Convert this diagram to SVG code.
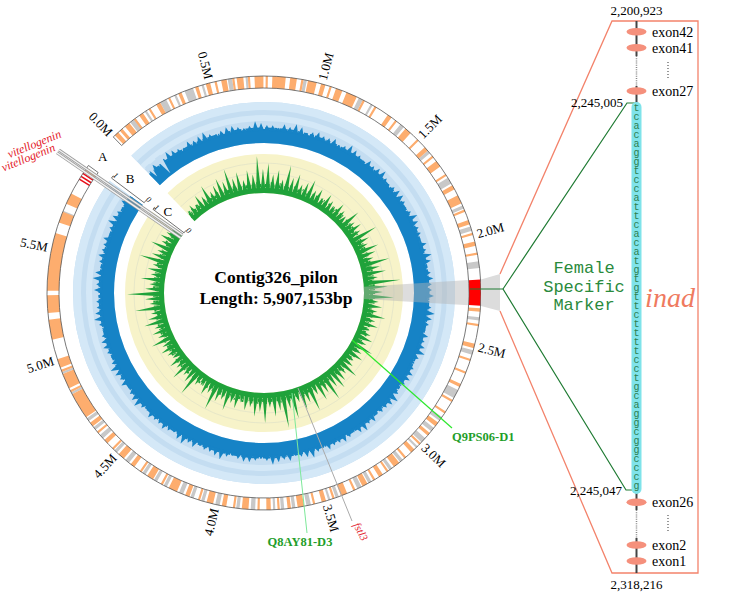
<svg xmlns="http://www.w3.org/2000/svg" width="730" height="597" viewBox="0 0 730 597">
<defs>
<style>
text{font-family:"Liberation Serif","Times New Roman",serif;fill:#000}
.tk{font-size:13px}
.s{text-anchor:start}
.e{text-anchor:end}
.m{text-anchor:middle}
.ex{font-size:14px}
.num{font-size:13px}
.mono{font-family:"Liberation Mono","Courier New",monospace}
.fsm{font-size:17px;fill:#2a8a3c}
.seq{font-size:10px;fill:#2e7d4f;text-anchor:middle}
.ax{font-size:8px;font-style:italic;text-anchor:middle}
.lt{font-size:13px;text-anchor:middle}
.gl{font-size:12.5px;font-weight:bold;fill:#1f9e2a}
.exon{fill:#f5907c}
</style>
<clipPath id="cg"><polygon points="264,293 -13.9,5.3 264,-400 1000,293 264,1000 -500,293 -59.6,57.9"/></clipPath>
<path id="rc" d="M475,293a211,211 0 1 1-422,0a211,211 0 1 1 422,0" pathLength="607.6"/>
<path id="b1" d="M428.5,293a164.5,164.5 0 1 1-329,0a164.5,164.5 0 1 1 329,0" pathLength="1000"/>
<path id="c1" d="M371.5,293a107.5,107.5 0 1 1-215,0a107.5,107.5 0 1 1 215,0" pathLength="700"/>
<path id="c2" d="M374,293a110,110 0 1 1-220,0a110,110 0 1 1 220,0" pathLength="700"/>
<path id="ga" d="M-2.3,-104L0,-109L2.3,-104Z"/>
<path id="gb" d="M-2.3,-104L0,-112L2.3,-104Z"/>
<path id="gc" d="M-2.3,-104L0,-115L2.3,-104Z"/>
<path id="gd" d="M-2.3,-104L0,-119L2.3,-104Z"/>
<path id="ge" d="M-2.3,-104L0,-124L2.3,-104Z"/>
<path id="gf" d="M-2.3,-104L0,-130L2.3,-104Z"/>
<path id="gg" d="M-2.3,-104L0,-137L2.3,-104Z"/>
<path id="pa" d="M-3.2,-162L0,-166L3.2,-162Z"/>
<path id="pb" d="M-3.2,-162L0,-168L3.2,-162Z"/>
<path id="pc" d="M-3.2,-162L0,-170L3.2,-162Z"/>
<path id="pd" d="M-3.2,-162L0,-172L3.2,-162Z"/>
</defs>

<g id="tracks" clip-path="url(#cg)">
 <g id="coverage-track" fill="none">
  <circle cx="264" cy="293" r="170.5" stroke="#c4ddf1" stroke-width="41"/>
  <circle cx="264" cy="293" r="187" stroke="#d4e8f7" stroke-width="8"/>
  <circle cx="264" cy="293" r="175" stroke="#d4e8f7" stroke-width="6"/>
  <circle cx="264" cy="293" r="157" stroke="#1683c6" stroke-width="14"/>
  <use href="#b1" stroke="#1683c6" stroke-width="2" stroke-dasharray="4 1 2 2 6 1 1 1 3 2 5 1 2 1 7 2 1 1 3 1 4 2"/>
  <g transform="translate(264 293)" fill="#1683c6" stroke="none">
<use href="#pb" transform="rotate(-43)"/><use href="#pc" transform="rotate(-41)"/><use href="#pa" transform="rotate(-39)"/><use href="#pb" transform="rotate(-37)"/><use href="#pd" transform="rotate(-35)"/><use href="#pc" transform="rotate(-33)"/><use href="#pb" transform="rotate(-31)"/><use href="#pa" transform="rotate(-29)"/><use href="#pc" transform="rotate(-27)"/><use href="#pb" transform="rotate(-25)"/><use href="#pc" transform="rotate(-23)"/><use href="#pd" transform="rotate(-21)"/><use href="#pb" transform="rotate(-19)"/><use href="#pa" transform="rotate(-17)"/><use href="#pb" transform="rotate(-15)"/><use href="#pc" transform="rotate(-13)"/><use href="#pc" transform="rotate(-11)"/><use href="#pb" transform="rotate(-9)"/><use href="#pa" transform="rotate(-7)"/><use href="#pb" transform="rotate(-5)"/><use href="#pd" transform="rotate(-3)"/><use href="#pc" transform="rotate(-1)"/><use href="#pb" transform="rotate(1)"/><use href="#pb" transform="rotate(3)"/><use href="#pa" transform="rotate(5)"/><use href="#pc" transform="rotate(7)"/><use href="#pb" transform="rotate(9)"/><use href="#pd" transform="rotate(11)"/><use href="#pc" transform="rotate(13)"/><use href="#pa" transform="rotate(15)"/><use href="#pb" transform="rotate(17)"/><use href="#pc" transform="rotate(19)"/><use href="#pb" transform="rotate(21)"/>
<use href="#pb" transform="rotate(23)"/><use href="#pc" transform="rotate(25)"/><use href="#pa" transform="rotate(27)"/><use href="#pb" transform="rotate(29)"/><use href="#pd" transform="rotate(31)"/><use href="#pc" transform="rotate(33)"/><use href="#pb" transform="rotate(35)"/><use href="#pa" transform="rotate(37)"/><use href="#pc" transform="rotate(39)"/><use href="#pb" transform="rotate(41)"/><use href="#pc" transform="rotate(43)"/><use href="#pd" transform="rotate(45)"/><use href="#pb" transform="rotate(47)"/><use href="#pa" transform="rotate(49)"/><use href="#pb" transform="rotate(51)"/><use href="#pc" transform="rotate(53)"/><use href="#pc" transform="rotate(55)"/><use href="#pb" transform="rotate(57)"/><use href="#pa" transform="rotate(59)"/><use href="#pb" transform="rotate(61)"/><use href="#pd" transform="rotate(63)"/><use href="#pc" transform="rotate(65)"/><use href="#pb" transform="rotate(67)"/><use href="#pb" transform="rotate(69)"/><use href="#pa" transform="rotate(71)"/><use href="#pc" transform="rotate(73)"/><use href="#pb" transform="rotate(75)"/><use href="#pd" transform="rotate(77)"/><use href="#pc" transform="rotate(79)"/><use href="#pa" transform="rotate(81)"/><use href="#pb" transform="rotate(83)"/><use href="#pc" transform="rotate(85)"/><use href="#pb" transform="rotate(87)"/>
<use href="#pb" transform="rotate(89)"/><use href="#pc" transform="rotate(91)"/><use href="#pa" transform="rotate(93)"/><use href="#pb" transform="rotate(95)"/><use href="#pd" transform="rotate(97)"/><use href="#pc" transform="rotate(99)"/><use href="#pb" transform="rotate(101)"/><use href="#pa" transform="rotate(103)"/><use href="#pc" transform="rotate(105)"/><use href="#pb" transform="rotate(107)"/><use href="#pc" transform="rotate(109)"/><use href="#pd" transform="rotate(111)"/><use href="#pb" transform="rotate(113)"/><use href="#pa" transform="rotate(115)"/><use href="#pb" transform="rotate(117)"/><use href="#pc" transform="rotate(119)"/><use href="#pc" transform="rotate(121)"/><use href="#pb" transform="rotate(123)"/><use href="#pa" transform="rotate(125)"/><use href="#pb" transform="rotate(127)"/><use href="#pd" transform="rotate(129)"/><use href="#pc" transform="rotate(131)"/><use href="#pb" transform="rotate(133)"/><use href="#pb" transform="rotate(135)"/><use href="#pa" transform="rotate(137)"/><use href="#pc" transform="rotate(139)"/><use href="#pb" transform="rotate(141)"/><use href="#pd" transform="rotate(143)"/><use href="#pc" transform="rotate(145)"/><use href="#pa" transform="rotate(147)"/><use href="#pb" transform="rotate(149)"/><use href="#pc" transform="rotate(151)"/><use href="#pb" transform="rotate(153)"/>
<use href="#pb" transform="rotate(155)"/><use href="#pc" transform="rotate(157)"/><use href="#pa" transform="rotate(159)"/><use href="#pb" transform="rotate(161)"/><use href="#pd" transform="rotate(163)"/><use href="#pc" transform="rotate(165)"/><use href="#pb" transform="rotate(167)"/><use href="#pa" transform="rotate(169)"/><use href="#pc" transform="rotate(171)"/><use href="#pb" transform="rotate(173)"/><use href="#pc" transform="rotate(175)"/><use href="#pd" transform="rotate(177)"/><use href="#pb" transform="rotate(179)"/><use href="#pa" transform="rotate(181)"/><use href="#pb" transform="rotate(183)"/><use href="#pc" transform="rotate(185)"/><use href="#pc" transform="rotate(187)"/><use href="#pb" transform="rotate(189)"/><use href="#pa" transform="rotate(191)"/><use href="#pb" transform="rotate(193)"/><use href="#pd" transform="rotate(195)"/><use href="#pc" transform="rotate(197)"/><use href="#pb" transform="rotate(199)"/><use href="#pb" transform="rotate(201)"/><use href="#pa" transform="rotate(203)"/><use href="#pc" transform="rotate(205)"/><use href="#pb" transform="rotate(207)"/><use href="#pd" transform="rotate(209)"/><use href="#pc" transform="rotate(211)"/><use href="#pa" transform="rotate(213)"/><use href="#pb" transform="rotate(215)"/><use href="#pc" transform="rotate(217)"/><use href="#pb" transform="rotate(219)"/>
<use href="#pb" transform="rotate(221)"/><use href="#pc" transform="rotate(223)"/><use href="#pa" transform="rotate(225)"/><use href="#pb" transform="rotate(227)"/><use href="#pd" transform="rotate(229)"/><use href="#pc" transform="rotate(231)"/><use href="#pb" transform="rotate(233)"/><use href="#pa" transform="rotate(235)"/><use href="#pc" transform="rotate(237)"/><use href="#pb" transform="rotate(239)"/><use href="#pc" transform="rotate(241)"/><use href="#pd" transform="rotate(243)"/><use href="#pb" transform="rotate(245)"/><use href="#pa" transform="rotate(247)"/><use href="#pb" transform="rotate(249)"/><use href="#pc" transform="rotate(251)"/><use href="#pc" transform="rotate(253)"/><use href="#pb" transform="rotate(255)"/><use href="#pa" transform="rotate(257)"/><use href="#pb" transform="rotate(259)"/><use href="#pd" transform="rotate(261)"/><use href="#pc" transform="rotate(263)"/><use href="#pb" transform="rotate(265)"/><use href="#pb" transform="rotate(267)"/><use href="#pa" transform="rotate(269)"/><use href="#pc" transform="rotate(271)"/><use href="#pb" transform="rotate(273)"/><use href="#pd" transform="rotate(275)"/><use href="#pc" transform="rotate(277)"/><use href="#pa" transform="rotate(279)"/><use href="#pb" transform="rotate(281)"/><use href="#pc" transform="rotate(283)"/><use href="#pb" transform="rotate(285)"/>
<use href="#pb" transform="rotate(287)"/><use href="#pc" transform="rotate(289)"/><use href="#pa" transform="rotate(291)"/><use href="#pb" transform="rotate(293)"/><use href="#pd" transform="rotate(295)"/><use href="#pc" transform="rotate(297)"/><use href="#pb" transform="rotate(299)"/><use href="#pa" transform="rotate(301)"/><use href="#pc" transform="rotate(303)"/><use href="#pb" transform="rotate(305)"/>
  </g>
  <g transform="translate(264 293)" fill="#c4ddf1">
   <path d="M-3.5,-173L0,-152L3.5,-173Z" transform="rotate(-38)"/>
   <path d="M-3,-173L0,-158L3,-173Z" transform="rotate(-42.5)"/>
  </g>
 </g>
 <g id="gc-track">
  <circle cx="264" cy="293" r="119.5" fill="none" stroke="#f7f3c9" stroke-width="39"/>
  <g fill="none" stroke="#dcdfc8" stroke-width="0.6">
   <circle cx="264" cy="293" r="110"/>
   <circle cx="264" cy="293" r="120"/>
   <circle cx="264" cy="293" r="130"/>
  </g>
  <circle cx="264" cy="293" r="102.5" fill="none" stroke="#1fa23a" stroke-width="5"/>
  <use href="#c1" fill="none" stroke="#1fa23a" stroke-width="3" stroke-dasharray="2 1 1 2 3 1 1 1 2 2 1 3"/>
  <use href="#c2" fill="none" stroke="#1fa23a" stroke-width="2" stroke-dasharray="1 3 2 4 1 2 1 5 2 3"/>
  <g transform="translate(264 293)" fill="#1fa23a">
<use href="#gb" transform="rotate(-43)"/><use href="#gc" transform="rotate(-40.5)"/><use href="#gb" transform="rotate(-38)"/><use href="#gd" transform="rotate(-35.5)"/><use href="#gc" transform="rotate(-33)"/><use href="#ge" transform="rotate(-30.5)"/><use href="#gc" transform="rotate(-28)"/><use href="#gd" transform="rotate(-25.5)"/><use href="#ge" transform="rotate(-23)"/><use href="#gd" transform="rotate(-20.5)"/><use href="#gf" transform="rotate(-18)"/><use href="#gd" transform="rotate(-15.5)"/><use href="#ge" transform="rotate(-13)"/><use href="#gc" transform="rotate(-10.5)"/><use href="#ge" transform="rotate(-8)"/><use href="#gd" transform="rotate(-5.5)"/><use href="#gg" transform="rotate(-3)"/><use href="#ge" transform="rotate(-0.5)"/><use href="#gf" transform="rotate(2)"/><use href="#gd" transform="rotate(4.5)"/><use href="#ge" transform="rotate(7)"/><use href="#gc" transform="rotate(9.5)"/><use href="#gf" transform="rotate(12)"/><use href="#gd" transform="rotate(14.5)"/><use href="#ge" transform="rotate(17)"/><use href="#gc" transform="rotate(19.5)"/><use href="#gd" transform="rotate(22)"/><use href="#ge" transform="rotate(24.5)"/><use href="#gc" transform="rotate(27)"/><use href="#gd" transform="rotate(29.5)"/><use href="#gb" transform="rotate(32)"/><use href="#gd" transform="rotate(34.5)"/><use href="#gc" transform="rotate(37)"/><use href="#gb" transform="rotate(39.5)"/><use href="#gd" transform="rotate(42)"/><use href="#gc" transform="rotate(44.5)"/><use href="#gb" transform="rotate(47)"/><use href="#ge" transform="rotate(49.5)"/><use href="#gc" transform="rotate(52)"/><use href="#gd" transform="rotate(54.5)"/><use href="#gc" transform="rotate(57)"/><use href="#gf" transform="rotate(59.5)"/><use href="#gd" transform="rotate(62)"/><use href="#gc" transform="rotate(64.5)"/><use href="#ge" transform="rotate(67)"/><use href="#gd" transform="rotate(69.5)"/><use href="#gc" transform="rotate(72)"/><use href="#gf" transform="rotate(74.5)"/><use href="#gd" transform="rotate(77)"/><use href="#ge" transform="rotate(79.5)"/><use href="#gc" transform="rotate(82)"/><use href="#gg" transform="rotate(84.5)"/><use href="#ge" transform="rotate(87)"/><use href="#gd" transform="rotate(89.5)"/><use href="#gf" transform="rotate(92)"/><use href="#gc" transform="rotate(94.5)"/><use href="#gd" transform="rotate(97)"/><use href="#gc" transform="rotate(99.5)"/><use href="#ge" transform="rotate(102)"/><use href="#gc" transform="rotate(104.5)"/><use href="#gd" transform="rotate(107)"/><use href="#gb" transform="rotate(109.5)"/><use href="#gc" transform="rotate(112)"/><use href="#gd" transform="rotate(114.5)"/><use href="#gc" transform="rotate(117)"/><use href="#ge" transform="rotate(119.5)"/><use href="#gc" transform="rotate(122)"/><use href="#gd" transform="rotate(124.5)"/><use href="#gb" transform="rotate(127)"/><use href="#gc" transform="rotate(129.5)"/><use href="#ge" transform="rotate(132)"/><use href="#gc" transform="rotate(134.5)"/><use href="#gd" transform="rotate(137)"/><use href="#ge" transform="rotate(139.5)"/><use href="#gd" transform="rotate(142)"/><use href="#gf" transform="rotate(144.5)"/><use href="#gd" transform="rotate(147)"/><use href="#ge" transform="rotate(149.5)"/><use href="#gc" transform="rotate(152)"/><use href="#gf" transform="rotate(154.5)"/><use href="#gd" transform="rotate(157)"/><use href="#ge" transform="rotate(159.5)"/><use href="#gc" transform="rotate(162)"/><use href="#gf" transform="rotate(164.5)"/><use href="#gd" transform="rotate(167)"/><use href="#gg" transform="rotate(169.5)"/><use href="#gd" transform="rotate(172)"/><use href="#ge" transform="rotate(174.5)"/><use href="#gc" transform="rotate(177)"/><use href="#gf" transform="rotate(179.5)"/><use href="#gd" transform="rotate(182)"/><use href="#ge" transform="rotate(184.5)"/><use href="#gc" transform="rotate(187)"/><use href="#gd" transform="rotate(189.5)"/><use href="#gb" transform="rotate(192)"/><use href="#gd" transform="rotate(194.5)"/><use href="#gc" transform="rotate(197)"/><use href="#ge" transform="rotate(199.5)"/><use href="#gc" transform="rotate(202)"/><use href="#gd" transform="rotate(204.5)"/><use href="#gf" transform="rotate(207)"/><use href="#gc" transform="rotate(209.5)"/><use href="#gd" transform="rotate(212)"/><use href="#gb" transform="rotate(214.5)"/><use href="#gc" transform="rotate(217)"/><use href="#gf" transform="rotate(219.5)"/><use href="#gd" transform="rotate(222)"/><use href="#gc" transform="rotate(224.5)"/><use href="#ge" transform="rotate(227)"/><use href="#gc" transform="rotate(229.5)"/><use href="#gd" transform="rotate(232)"/><use href="#gb" transform="rotate(234.5)"/><use href="#gc" transform="rotate(237)"/><use href="#gd" transform="rotate(239.5)"/><use href="#gc" transform="rotate(242)"/><use href="#ge" transform="rotate(244.5)"/><use href="#gc" transform="rotate(247)"/><use href="#gd" transform="rotate(249.5)"/><use href="#gc" transform="rotate(252)"/><use href="#ge" transform="rotate(254.5)"/><use href="#gd" transform="rotate(257)"/><use href="#gc" transform="rotate(259.5)"/><use href="#gf" transform="rotate(262)"/><use href="#gc" transform="rotate(264.5)"/><use href="#gd" transform="rotate(267)"/><use href="#gg" transform="rotate(269.5)"/><use href="#gd" transform="rotate(272)"/><use href="#gc" transform="rotate(274.5)"/><use href="#ge" transform="rotate(277)"/><use href="#gc" transform="rotate(279.5)"/><use href="#gd" transform="rotate(282)"/><use href="#gc" transform="rotate(284.5)"/><use href="#gf" transform="rotate(287)"/><use href="#gd" transform="rotate(289.5)"/><use href="#gc" transform="rotate(292)"/><use href="#ge" transform="rotate(294.5)"/><use href="#gc" transform="rotate(297)"/><use href="#gd" transform="rotate(299.5)"/><use href="#gc" transform="rotate(302)"/><use href="#gb" transform="rotate(304.5)"/>
  </g>
 </g>
</g>

<g id="ideogram">
 <path d="M113.25,136.91A217,217 0 1 1 88.44,165.45L98.15,172.5A205,205 0 1 0 121.59,145.54Z" fill="#fff"/>
 <g clip-path="url(#cg)">
  <g transform="rotate(-134 264 293)" fill="none" stroke-width="12">
   <use href="#rc" stroke="#c8c8c8" stroke-dasharray="0 10 3 5 1 7 3 4 1 4 4 4 1 11 2 6 1 25 1.5 24.5 2 4 1 15 2 15 1.5 13.5 3 11 1.5 8.5 2 14 3 7 2 13 1.5 13.5 2 17 4 10 2 4 2 4 2.5 2.5 1 8 1.5 4.5 1.5 9.5 1.5 3.5 2 9 1.5 2.5 1 8 2 5 1.5 3.5 1.5 2.5 1 8 2 5 1.5 7.5 2 5 1.5 3.5 1.5 3.5 2 6 1.5 3.5 1.5 4.5 1.5 7.5 2 5 1.5 7.5 2 3 1.5 3.5 1.5 8.5 1 3 1 9 1 72 1.5 50"/>
   <use href="#rc" stroke="#fdad6e" stroke-dasharray="0 1 2 1 1.5 1.5 2.5 2.5 1 2 2 3 1 3 2 4 1 4 1.5 6.5 1.5 3.5 2 2 1 2 2.5 2.5 1 1 3 2 1 2 4 1 1 2 6 2 3 2 1 2 4 2 2 2 1 2 3 2 5 3 1 5 1 6 2 2 1 5 3 4 1 4 2 3 1 2 3 4 1 5 2 3 4 3 1 4 2 4 1 3 2 3 1 17 1 6 1.5 5.5 1 8 2 5 1 5 1 5 1.5 6.5 1 5 1 5 2 4 1.5 4.5 1 3 2 3 1 3 3 3 1 2 2 2 1 3 2.5 3.5 1 3 3 3 1 3 2 3 1 4 3 3 1.5 3.5 1 3 2 3 1 4 3 3 1 3 2 4 3 3 1 4 2 4 4 3 1 4 3 3 1 3 2 4 3 3 1 3 2 4 1 3 2 3 12 1 1 1 7 1 1 1 4 9 9 3 8 2 26 5 5 4 5 12 1.5 20"/>
   <use href="#rc" stroke="#e8101a" stroke-dasharray="0 583 0.7 0.8 0.7 0.8 0.7 30"/>
   <use href="#rc" stroke="#ff0000" stroke-dasharray="0 220.1 11.7 400"/>
  </g>
 </g>
 <path d="M113.25,136.91A217,217 0 1 1 88.44,165.45L98.15,172.5A205,205 0 1 0 121.59,145.54Z" fill="none" stroke="#555" stroke-width="0.8"/>
</g>

<g id="marker-highlight">
 <path d="M363.8,286.7L468.6,280.1A205,205 0 0 1 468.6,305.2L363.8,298.9A100,100 0 0 0 363.8,286.7Z" fill="#b4b4b4" fill-opacity="0.45"/>
 <polygon points="481,279.5 500,274 500,311 481,306" fill="#dcdcdc"/>
</g>

<g id="vitellogenin-beam">
 <line x1="182.6" y1="235" x2="59" y2="150" stroke="#9a9a9a" stroke-width="3"/>
 <line x1="182.6" y1="235" x2="59" y2="150" stroke="#f2f2f2" stroke-width="1.4"/>
 <line x1="180.6" y1="237.8" x2="57" y2="152.8" stroke="#9a9a9a" stroke-width="3"/>
 <line x1="180.6" y1="237.8" x2="57" y2="152.8" stroke="#f2f2f2" stroke-width="1.4"/>
 <text transform="translate(62 137) rotate(-22)" class="e" style="font-size:12px;font-style:italic;fill:#e3161f">vitellogenin</text>
 <text transform="translate(56 150.5) rotate(-22)" class="e" style="font-size:12px;font-style:italic;fill:#e3161f">vitellogenin</text>
</g>

<g id="track-axes" stroke="#333" stroke-width="0.7">
 <line x1="111.5" y1="178.1" x2="144.2" y2="202.7"/>
 <line x1="111.5" y1="178.1" x2="113.3" y2="175.7"/>
 <line x1="144.2" y1="202.7" x2="146" y2="200.3"/>
 <line x1="153" y1="209.3" x2="184.1" y2="232.8"/>
 <line x1="153" y1="209.3" x2="154.8" y2="206.9"/>
 <line x1="184.1" y1="232.8" x2="185.9" y2="230.4"/>
</g>
<g id="track-labels">
 <text x="102.8" y="161.3" class="lt">A</text>
 <text x="130" y="183.4" class="lt">B</text>
 <text x="167.8" y="216.2" class="lt">C</text>
 <text transform="translate(116 175) rotate(38)" class="ax" dy="3">1</text>
 <text transform="translate(149 199) rotate(38)" class="ax" dy="3">0</text>
 <text transform="translate(157 207) rotate(38)" class="ax" dy="3">1</text>
 <text transform="translate(189 230) rotate(38)" class="ax" dy="3">0</text>
</g>

<g id="ticks" transform="translate(264 293)" class="tk">
 <text transform="rotate(-44) translate(0 -221) rotate(90)" class="e" dy="0.35em">0.0M</text>
 <text transform="rotate(-14.375) translate(0 -221) rotate(90)" class="e" dy="0.35em">0.5M</text>
 <text transform="rotate(15.25) translate(0 -221) rotate(-90)" class="s" dy="0.35em">1.0M</text>
 <text transform="rotate(44.875) translate(0 -221) rotate(-90)" class="s" dy="0.35em">1.5M</text>
 <text transform="rotate(74.5) translate(0 -221) rotate(-90)" class="s" dy="0.35em">2.0M</text>
 <text transform="rotate(104.125) translate(0 -221) rotate(-90)" class="s" dy="0.35em">2.5M</text>
 <text transform="rotate(133.75) translate(0 -221) rotate(-90)" class="s" dy="0.35em">3.0M</text>
 <text transform="rotate(163.375) translate(0 -221) rotate(-90)" class="s" dy="0.35em">3.5M</text>
 <text transform="rotate(193) translate(0 -221) rotate(90)" class="e" dy="0.35em">4.0M</text>
 <text transform="rotate(222.625) translate(0 -221) rotate(90)" class="e" dy="0.35em">4.5M</text>
 <text transform="rotate(252.25) translate(0 -221) rotate(90)" class="e" dy="0.35em">5.0M</text>
 <text transform="rotate(281.875) translate(0 -221) rotate(90)" class="e" dy="0.35em">5.5M</text>
</g>

<g id="center-title" style="font-size:17.5px;font-weight:bold">
 <text x="276" y="283" class="m">Contig326_pilon</text>
 <text x="276" y="304" class="m">Length: 5,907,153bp</text>
</g>

<g id="connectors" fill="none">
 <polyline points="500,274 612,21 698,21 698,573 612,573 500,311" stroke="#f3836b" stroke-width="1.3"/>
 <line x1="470" y1="289" x2="503" y2="289" stroke="#1e7a32" stroke-width="1.2"/>
 <polyline points="503,289 627,103 636.5,103" stroke="#1e7a32" stroke-width="1.2"/>
 <polyline points="503,289 626,490 636.5,490" stroke="#1e7a32" stroke-width="1.2"/>
 <line x1="352" y1="340" x2="452" y2="428" stroke="#2ee82e" stroke-width="1.2"/>
 <line x1="292" y1="393" x2="307" y2="533" stroke="#7de89a" stroke-width="1"/>
 <line x1="298" y1="388" x2="352" y2="521" stroke="#aaaaaa" stroke-width="1"/>
</g>

<g id="gene-labels">
 <text x="452" y="441" class="gl">Q9PS06-D1</text>
 <text x="300" y="546" class="gl m">Q8AY81-D3</text>
 <text transform="translate(353 525) rotate(62)" style="font-size:11px;font-style:italic;fill:#e3262f">fstl3</text>
</g>

<g id="female-marker-label">
 <text x="584" y="273" class="m mono fsm">Female</text>
 <text x="584" y="291.5" class="m mono fsm">Specific</text>
 <text x="584" y="310" class="m mono fsm">Marker</text>
</g>

<g id="inad-panel">
 <g stroke="#444" stroke-width="2">
  <line x1="636.5" y1="21" x2="636.5" y2="56"/>
  <line x1="636.5" y1="86" x2="636.5" y2="103"/>
  <line x1="636.5" y1="493" x2="636.5" y2="510"/>
  <line x1="636.5" y1="538" x2="636.5" y2="573"/>
 </g>
 <g stroke="#888" stroke-width="1.5" stroke-dasharray="1 1.2">
  <line x1="636.5" y1="56" x2="636.5" y2="86"/>
  <line x1="636.5" y1="510" x2="636.5" y2="538"/>
 </g>
 <g stroke="#555" stroke-width="1.2" stroke-dasharray="1 2">
  <line x1="668" y1="62" x2="668" y2="78"/>
  <line x1="668" y1="515" x2="668" y2="532"/>
 </g>
 <g id="exons">
  <ellipse cx="636.5" cy="31.7" rx="10" ry="3.8" class="exon"/>
  <ellipse cx="636.5" cy="47.7" rx="10" ry="3.8" class="exon"/>
  <ellipse cx="636.5" cy="91" rx="10" ry="3.8" class="exon"/>
  <ellipse cx="636.5" cy="502.3" rx="10" ry="3.8" class="exon"/>
  <ellipse cx="636.5" cy="545" rx="10" ry="3.8" class="exon"/>
  <ellipse cx="636.5" cy="561" rx="10" ry="3.8" class="exon"/>
 </g>
 <g>
  <text x="652" y="36.5" class="ex">exon42</text>
  <text x="652" y="52.5" class="ex">exon41</text>
  <text x="652" y="95.8" class="ex">exon27</text>
  <text x="652" y="507" class="ex">exon26</text>
  <text x="652" y="549.8" class="ex">exon2</text>
  <text x="652" y="565.8" class="ex">exon1</text>
 </g>
 <text x="636.5" y="15" class="num m">2,200,923</text>
 <text x="636.5" y="589" class="num m">2,318,216</text>
 <text x="623" y="107" class="num e">2,245,005</text>
 <text x="622" y="495" class="num e">2,245,047</text>
 <rect x="631.5" y="102" width="10" height="392" rx="5" fill="#7fe3ea"/>
 <text class="mono seq" x="636.5 636.5 636.5 636.5 636.5 636.5 636.5 636.5 636.5 636.5 636.5 636.5 636.5 636.5 636.5 636.5 636.5 636.5 636.5 636.5 636.5 636.5 636.5 636.5 636.5 636.5 636.5 636.5 636.5 636.5 636.5 636.5 636.5 636.5 636.5 636.5 636.5 636.5 636.5 636.5 636.5 636.5 636.5" y="111 120 129 138 147 156 165 174 183 192 201 210 219 228 237 246 255 264 273 282 291 300 309 318 327 336 345 354 363 372 381 390 399 408 417 426 435 444 453 462 471 480 489">tcacaggtccattcacatgtgttcttttcctgcaggcggcccg</text>
 <text x="670" y="307" class="m" style="font-size:28px;font-style:italic;fill:#ef7a5f">inad</text>
</g>
</svg>
